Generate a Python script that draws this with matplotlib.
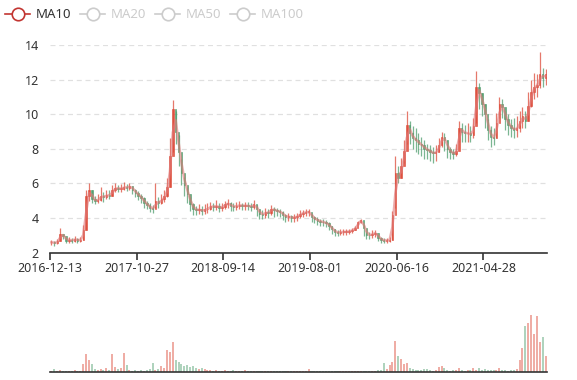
import numpy as np
import pandas as pd
import matplotlib
matplotlib.use("Agg")
import matplotlib.pyplot as plt
from matplotlib.lines import Line2D

plt.rcParams['font.family'] = ['Noto Sans', 'DejaVu Sans']

# prices (one sample per ~7 trading days)
close = [
    2.6, 2.55, 2.65, 3.1, 2.95, 2.7, 2.75, 2.7, 2.8, 2.7,
    2.75, 3.3, 5.3, 5.6, 5.1, 5.0, 5.05, 5.3, 5.2, 5.35,
    5.3, 5.6, 5.75, 5.7, 5.7, 5.8, 5.75, 5.85, 5.65, 5.45,
    5.3, 5.15, 4.9, 4.75, 4.6, 4.5, 5.0, 4.85, 5.1, 5.25,
    5.8, 7.6, 10.3, 9.0, 7.8, 6.6, 5.9, 5.4, 4.8, 4.55,
    4.45, 4.5, 4.4, 4.5, 4.55, 4.7, 4.65, 4.7, 4.6, 4.65,
    4.8, 4.85, 4.7, 4.65, 4.7, 4.75, 4.7, 4.72, 4.7, 4.65,
    4.8, 4.5, 4.25, 4.2, 4.35, 4.3, 4.55, 4.45, 4.4, 4.35,
    4.2, 4.05, 4.1, 4.0, 4.05, 4.1, 4.25, 4.3, 4.35, 4.35,
    4.05, 3.95, 3.85, 3.8, 3.75, 3.7, 3.55, 3.35, 3.2, 3.15,
    3.2, 3.2, 3.2, 3.25, 3.3, 3.45, 3.75, 3.9, 3.4, 3.05,
    3.0, 3.1, 3.15, 2.85, 2.75, 2.7, 2.7, 2.75, 4.2, 6.6,
    6.3, 7.0, 7.9, 9.4, 8.9, 8.6, 8.5, 8.3, 8.2, 8.0,
    7.95, 7.8, 7.75, 7.8, 8.2, 8.7, 8.5, 8.0, 7.8, 7.7,
    7.9, 9.2, 9.0, 8.9, 8.9, 8.8, 9.3, 11.6, 11.2, 10.6,
    10.0, 9.1, 8.7, 8.6, 9.5, 10.6, 10.4, 9.7, 9.4, 9.2,
    9.1, 9.2, 9.6, 9.9, 9.6, 10.5, 11.3, 11.6, 11.7, 12.3,
    12.1, 12.3,
]

high = [
    2.75, 2.7, 2.8, 3.4, 3.1, 2.85, 2.9, 2.85, 2.95, 2.85,
    2.9, 3.6, 5.6, 6.0, 5.6, 5.3, 5.4, 5.8, 5.5, 5.6,
    5.6, 5.9, 6.0, 5.9, 5.95, 6.1, 5.95, 6.05, 5.85, 5.7,
    5.55, 5.4, 5.2, 5.0, 4.85, 4.75, 6.0, 5.2, 5.4, 5.6,
    6.3, 8.6, 10.8, 10.2, 8.8, 7.4, 6.4, 5.8, 5.2, 4.85,
    4.7, 4.8, 4.7, 4.8, 4.85, 4.95, 4.9, 5.05, 4.85, 4.9,
    5.0, 5.1, 4.95, 4.85, 4.95, 5.0, 4.9, 4.95, 4.95, 4.85,
    5.05, 4.75, 4.5, 4.45, 4.6, 4.55, 4.75, 4.65, 4.6, 4.55,
    4.4, 4.25, 4.3, 4.2, 4.25, 4.3, 4.45, 4.45, 4.5, 4.5,
    4.25, 4.1, 4.05, 3.95, 3.95, 3.9, 3.75, 3.55, 3.35, 3.3,
    3.35, 3.35, 3.35, 3.35, 3.4, 3.55, 3.85, 3.95, 3.6, 3.2,
    3.2, 3.3, 3.3, 3.05, 2.9, 2.85, 2.85, 2.9, 4.4, 7.6,
    7.0, 7.5, 8.5, 10.2, 9.6, 9.3, 9.2, 8.9, 8.7, 8.5,
    8.3, 8.2, 8.1, 8.2, 8.6, 9.0, 8.9, 8.5, 8.1, 8.0,
    8.3, 9.6, 9.5, 9.4, 9.5, 9.3, 9.8, 12.5, 11.8, 11.2,
    10.6, 9.7, 9.3, 9.2, 10.1, 11.0, 10.9, 10.2, 10.0, 9.7,
    9.8, 9.9, 10.2, 10.4, 10.2, 11.3, 12.0, 12.4, 12.3, 13.6,
    12.7, 12.6,
]

low = [
    2.45, 2.4, 2.5, 2.7, 2.8, 2.55, 2.55, 2.55, 2.6, 2.55,
    2.6, 2.75, 3.3, 5.0, 4.9, 4.8, 4.85, 5.0, 4.95, 5.1,
    5.1, 5.3, 5.5, 5.5, 5.5, 5.6, 5.55, 5.6, 5.4, 5.2,
    5.05, 4.9, 4.6, 4.5, 4.35, 4.3, 4.6, 4.6, 4.8, 4.95,
    5.2, 5.8, 7.8, 8.3, 7.0, 5.9, 5.3, 4.9, 4.4, 4.2,
    4.2, 4.25, 4.15, 4.25, 4.3, 4.45, 4.4, 4.45, 4.35, 4.4,
    4.55, 4.6, 4.4, 4.4, 4.45, 4.5, 4.45, 4.45, 4.45, 4.4,
    4.5, 4.1, 3.95, 3.95, 4.0, 4.0, 4.15, 4.05, 4.1, 4.05,
    3.9, 3.8, 3.85, 3.8, 3.8, 3.85, 4.0, 4.05, 4.1, 4.1,
    3.8, 3.7, 3.6, 3.55, 3.55, 3.5, 3.3, 3.1, 2.95, 2.95,
    3.0, 3.0, 3.05, 3.1, 3.15, 3.3, 3.6, 3.7, 2.95, 2.8,
    2.8, 2.85, 2.9, 2.65, 2.55, 2.55, 2.55, 2.6, 2.75, 4.6,
    6.0, 6.3, 7.2, 8.3, 8.3, 8.0, 7.8, 7.7, 7.6, 7.4,
    7.4, 7.3, 7.2, 7.3, 7.8, 8.1, 7.9, 7.5, 7.4, 7.4,
    7.6, 8.4, 8.4, 8.4, 8.4, 8.4, 8.6, 9.5, 10.3, 9.9,
    9.2, 8.5, 8.1, 8.2, 8.6, 9.8, 9.8, 9.1, 8.8, 8.7,
    8.6, 8.7, 9.0, 9.2, 9.2, 9.6, 10.4, 10.9, 11.0, 11.5,
    11.6, 11.7,
]

volume = [
    1, 3, 1, 2, 1, 1, 1, 1, 2, 1,
    1, 8, 18, 12, 8, 3, 2, 3, 2, 4,
    2, 18, 5, 3, 4, 19, 7, 2, 1, 2,
    1, 2, 1, 2, 3, 9, 2, 3, 6, 4,
    22, 20, 30, 12, 10, 8, 6, 7, 5, 6,
    4, 3, 4, 3, 2, 2, 1, 2, 1, 1,
    2, 1, 1, 2, 1, 1, 1, 2, 1, 1,
    1, 1, 1, 1, 1, 1, 1, 1, 1, 1,
    1, 1, 1, 1, 1, 1, 1, 1, 1, 3,
    1, 1, 1, 1, 1, 1, 1, 1, 1, 1,
    1, 1, 1, 1, 1, 1, 1, 1, 1, 1,
    1, 1, 1, 2, 2, 9, 3, 7, 10, 31,
    16, 13, 8, 9, 4, 3, 2, 2, 2, 3,
    3, 2, 1, 2, 5, 6, 4, 2, 1, 2,
    2, 4, 2, 1, 2, 2, 4, 2, 4, 2,
    3, 2, 2, 2, 2, 4, 2, 2, 1, 2,
    2, 3, 12, 24, 46, 49, 57, 38, 56, 30,
    35, 16,
]

tick_labels = ['2016-12-13', '2017-10-27', '2018-09-14', '2019-08-01', '2020-06-16', '2021-04-28']
tick_idx = [0, 30, 60, 90, 120, 150]
legend_names = ['MA10', 'MA20', 'MA50', 'MA100']

UP = '#dd4b39'
DOWN = '#4f9e6e'
MA_COLOR = '#e07a7a'

df = pd.DataFrame({'close': close, 'high': high, 'low': low, 'volume': volume})
df['open'] = df['close'].shift(1).fillna(df['close'])
df['up'] = df['close'] >= df['open']
df['ma10'] = df['close'].rolling(2, min_periods=1).mean()
n = len(df)
x = np.arange(n) + 0.5

W, H = 577, 380
fig = plt.figure(figsize=(W / 100, H / 100), dpi=100)

def box(l, t, r, b):
    return [l / W, 1 - b / H, (r - l) / W, (b - t) / H]

ax = fig.add_axes(box(50, 45, 547, 252.7))
colors = np.where(df['up'], UP, DOWN)
ax.vlines(x, df['low'], df['high'], colors=colors, lw=0.9, alpha=0.75)
body = (df['close'] - df['open']).values
body = np.where(np.abs(body) < 0.04, 0.04, body)
ax.bar(x, body, bottom=df['open'], width=0.5, color=colors, alpha=0.85,
       linewidth=0.5, edgecolor=colors)
ax.plot(x, df['ma10'], color=MA_COLOR, lw=1.8, alpha=0.6)

ax.set_xlim(0, n)
ax.set_ylim(2, 14)
ax.set_yticks(range(2, 15, 2))
ax.yaxis.grid(True, color='#e0e0e0', ls=(0, (4, 3)), lw=0.9)
ax.set_axisbelow(True)
for s in ['top', 'right', 'left']:
    ax.spines[s].set_visible(False)
ax.spines['bottom'].set_color('#333333')
ax.spines['bottom'].set_linewidth(1.2)
ax.set_xticks(tick_idx)
ax.set_xticklabels(tick_labels)
ax.tick_params(axis='x', length=5, width=1.2, color='#333333', labelsize=9, labelcolor='#333333', pad=2)
ax.tick_params(axis='y', length=0, labelsize=9, labelcolor='#333333', pad=8)

vax = fig.add_axes(box(50, 300, 547, 372.3))
vax.bar(x, df['volume'], width=0.7, color=colors, alpha=0.45, linewidth=0)
vax.set_xlim(0, n)
vax.set_ylim(0, 72.3)
for s in ['top', 'right', 'left']:
    vax.spines[s].set_visible(False)
vax.spines['bottom'].set_color('#333333')
vax.spines['bottom'].set_linewidth(1.2)
vax.set_xticks([])
vax.set_yticks([])

# legend along the top
icon_x = [5, 80, 155, 230]
for i, name in enumerate(legend_names):
    c = '#c23531' if i == 0 else '#cccccc'
    tc = '#333333' if i == 0 else '#cccccc'
    x0 = icon_x[i]
    fig.add_artist(Line2D([x0 / W, (x0 + 25) / W], [1 - 14 / H] * 2, color=c, lw=1.2,
                          transform=fig.transFigure))
    fig.add_artist(Line2D([(x0 + 12.5) / W], [1 - 14 / H], marker='o', ms=9, mfc='white',
                          mec=c, mew=1.2, transform=fig.transFigure))
    fig.text((x0 + 31) / W, 1 - 14 / H, name, color=tc, fontsize=9.5, va='center', ha='left')

fig.savefig('out.png', dpi=100)
